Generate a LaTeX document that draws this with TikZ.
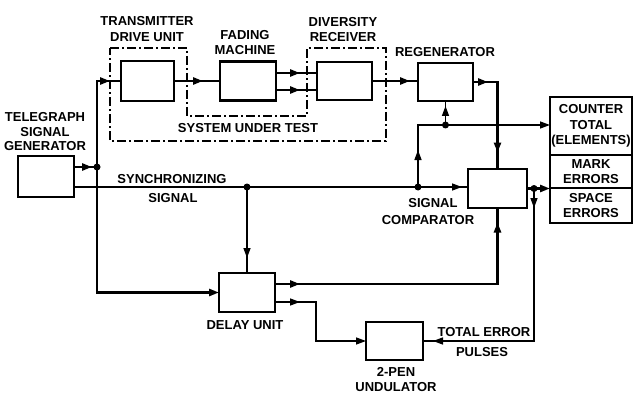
\documentclass[tikz,border=0pt]{standalone}
\usepackage{fontspec}
\setmainfont{Liberation Sans}
\usetikzlibrary{arrows.meta,decorations.markings,calc}
\tikzset{
  blk/.style={draw,line width=2.6pt,inner sep=0pt,outer sep=0pt},
  lbl/.style={inner sep=0pt,align=center,font=\bfseries\fontsize{13}{15.5}\selectfont},
  thk/.style={line width=2.6pt},
  thn/.style={line width=1.4pt},
  tipat/.style={postaction={decorate,decoration={markings,mark=at position #1 with {\arrow{Triangle[length=10pt,width=7pt]}}}}},
  endtip/.style={-{Triangle[length=10pt,width=7pt]}},
  dotc/.style={circle,fill,inner sep=0pt,minimum size=7pt},
  sut/.style={line width=1.3pt,dash pattern=on 9pt off 3pt on 2pt off 3pt}
}
\begin{document}
\begin{tikzpicture}[x=1pt,y=-1pt]
\useasboundingbox (0,0) rectangle (634,393);
% boxes
\node[blk,minimum width=56pt,minimum height=41pt] (tsg) at (46,176.5) {};
\node[blk,minimum width=53pt,minimum height=40pt] (tdu) at (147.5,81) {};
\node[blk,minimum width=56pt,minimum height=39pt] (fm) at (248,81) {};
\node[blk,minimum width=55pt,minimum height=38pt] (dr) at (344.5,81) {};
\node[blk,minimum width=55pt,minimum height=38pt] (reg) at (445.5,82) {};
\node[blk,minimum width=59pt,minimum height=39pt] (cmp) at (497.5,188.5) {};
\node[blk,minimum width=56pt,minimum height=39pt] (dly) at (247,292.5) {};
\node[blk,minimum width=57pt,minimum height=38pt] (und) at (394.5,341) {};
\node[blk,lbl,minimum width=82pt,minimum height=58pt] (c1) at (591,126) {COUNTER\\TOTAL\\(ELEMENTS)};
\node[blk,lbl,minimum width=82pt,minimum height=33pt] (c2) at (591,171.5) {MARK\\ERRORS};
\node[blk,lbl,minimum width=82pt,minimum height=35pt] (c3) at (591,205.5) {SPACE\\ERRORS};
% labels
\node[lbl,font=\bfseries\fontsize{13}{14.5}\selectfont] (ltsg) at (45,132) {TELEGRAPH\\SIGNAL\\GENERATOR};
\node[lbl,font=\bfseries\fontsize{13}{16}\selectfont] (ltdu) at (147,29) {TRANSMITTER\\DRIVE UNIT};
\node[lbl,font=\bfseries\fontsize{13}{15}\selectfont] (lfm) at (245,42.5) {FADING\\MACHINE};
\node[lbl,font=\bfseries\fontsize{13}{15}\selectfont] (ldr) at (343,30) {DIVERSITY\\RECEIVER};
\node[lbl] (lreg) at (445,52) {REGENERATOR};
\node[lbl] (lsut) at (248,128) {SYSTEM UNDER TEST};
\node[lbl] (lsy1) at (172,179) {SYNCHRONIZING};
\node[lbl] (lsy2) at (173,198) {SIGNAL};
\node[lbl] (lcmp1) at (433,203) {SIGNAL};
\node[lbl] (lcmp2) at (428,220) {COMPARATOR};
\node[lbl] (ldly) at (245,325) {DELAY UNIT};
\node[lbl] (lte1) at (484,332) {TOTAL ERROR};
\node[lbl] (lte2) at (482,352) {PULSES};
\node[lbl,font=\bfseries\fontsize{13}{15}\selectfont] (lund) at (396,379.5) {2-PEN\\UNDULATOR};
% system under test outline
\draw[sut] (110,48) -- (187,48) -- (187,116) -- (307,116) -- (307,48) -- (386,48) -- (386,141) -- (110,141) -- cycle;
% junctions
\coordinate (j1) at (97,167);
\coordinate (bt) at (97,81);
\coordinate (bb) at (97,292.5);
\coordinate (sy) at (247,187);
\coordinate (sz) at (418,187);
\coordinate (fb) at (418,125);
\coordinate (rd) at (445.5,125);
\coordinate (rc) at (497.5,82);
\coordinate (dc) at (497.5,284);
\coordinate (uc1) at (316,302);
\coordinate (uc2) at (316,341);
\coordinate (ed) at (534,188.5);
\coordinate (ec) at (534,341);
% connectors
\draw[thk,tipat=18pt] (tsg.east |- j1) -- (j1);
\draw[thk,tipat=99pt] (j1) -- (bt) -- (tdu.west);
\draw[thk,endtip] (j1) -- (bb) -- (dly.west);
\draw[thk,tipat=29pt] (tdu.east) -- (fm.west);
\draw[thk,tipat=24pt] ([yshift=8pt]fm.east) -- ([yshift=8pt]fm.east -| dr.west);
\draw[thk,tipat=24pt] ([yshift=-9pt]fm.east) -- ([yshift=-9pt]fm.east -| dr.west);
\draw[thk,tipat=38pt] (dr.east) -- (dr.east -| reg.west);
\draw[thk,tipat=15pt,tipat=95pt] (reg.east) -- (rc) -- (cmp.north);
\draw[thn,tipat=388pt] (tsg.east |- sy) -- (sy) -- (sz) -- (cmp.west |- sz);
\draw[thn,tipat=71pt] (sy) -- (dly.north);
\draw[thn,tipat=37pt,endtip] (sz) -- (fb) -- (c1.west |- fb);
\draw[thn,tipat=19pt] (rd) -- (reg.south);
\draw[thk,tipat=25pt,tipat=284pt] ([yshift=8.5pt]dly.east) -- (dc) -- (cmp.south);
\draw[thn,tipat=25pt,endtip] ([yshift=-9.5pt]dly.east) -- (uc1) -- (uc2) -- (und.west);
\draw[thk,endtip] (cmp.east) -- (cmp.east -| c2.south west);
\draw[thn,tipat=19.5pt,tipat=253.5pt] (ed) -- (ec) -- (und.east);
% dots
\node[dotc] (d1) at (j1) {};
\node[dotc] (d2) at (sy) {};
\node[dotc] (d3) at (sz) {};
\node[dotc] (d4) at (rd) {};
\node[dotc] (d5) at (ed) {};
\end{tikzpicture}
\end{document}
